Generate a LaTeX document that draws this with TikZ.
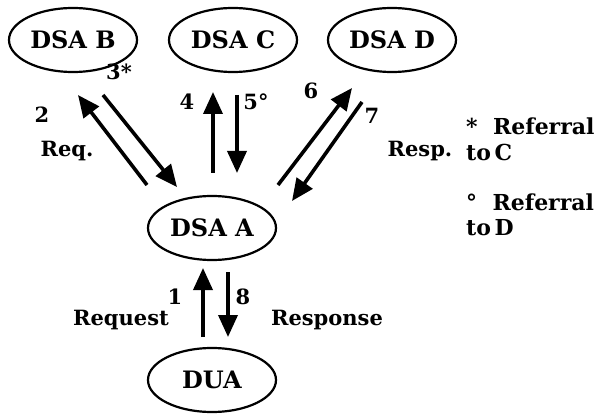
\documentclass[tikz,border=0pt]{standalone}
\usepackage{fontspec}
\setmainfont{DejaVu Serif}
\usetikzlibrary{arrows.meta,shapes.geometric}
\begin{document}
\begin{tikzpicture}[x=1pt,y=-1pt,
 ell/.style={draw, line width=2.2pt, ellipse, inner sep=0pt, minimum width=128pt, minimum height=64pt, font=\bfseries\fontsize{24}{26}\selectfont},
 arr/.style={line width=3.6pt, -{Triangle[length=22pt,width=19pt]}},
 lbl/.style={font=\bfseries\fontsize{21}{24}\selectfont, inner sep=0pt},
 leg/.style={font=\bfseries\fontsize{22}{24}\selectfont, inner sep=0pt, anchor=west}]
\useasboundingbox (0,0) rectangle (616,417);
\node[ell] (B) at (73,40) {DSA B};
\node[ell] (C) at (233,40) {DSA C};
\node[ell] (D) at (392,40) {DSA D};
\node[ell] (A) at (212,228) {DSA A};
\node[ell] (U) at (212,380) {DUA};
% arrow end points
\coordinate (a2s) at (147,185); \coordinate (a2e) at (78,95);
\coordinate (a3s) at (103,95);  \coordinate (a3e) at (177,187);
\coordinate (a4s) at (213,173); \coordinate (a4e) at (213,92);
\coordinate (a5s) at (237,95);  \coordinate (a5e) at (237,173);
\coordinate (a6s) at (278,185); \coordinate (a6e) at (352,88);
\coordinate (a7s) at (362,102); \coordinate (a7e) at (292,201);
\coordinate (a1s) at (203,337); \coordinate (a1e) at (203,268);
\coordinate (a8s) at (228,272); \coordinate (a8e) at (228,337);
\draw[arr] (a2s) -- (a2e);
\draw[arr] (a3s) -- (a3e);
\draw[arr] (a4s) -- (a4e);
\draw[arr] (a5s) -- (a5e);
\draw[arr] (a6s) -- (a6e);
\draw[arr] (a7s) -- (a7e);
\draw[arr] (a1s) -- (a1e);
\draw[arr] (a8s) -- (a8e);
% labels
\node[lbl] (l2) at (42,115) {2};
\node[lbl] (l3) at (119,72) {3*};
\node[lbl] (lreq) at (67,151) {Req.};
\node[lbl] (l4) at (187,102) {4};
\node[lbl] (l5) at (256,102) {5°};
\node[lbl] (l6) at (311,91) {6};
\node[lbl] (l7) at (372,116) {7};
\node[lbl] (lresp) at (420,151) {Resp.};
\node[lbl] (lrequest) at (121,320) {Request};
\node[lbl] (l1) at (175,297) {1};
\node[lbl] (l8) at (243,297) {8};
\node[lbl] (lresponse) at (327,320) {Response};
% legend
\node[leg] (g1) at (466,126) {*\ \ Referral};
\node[leg] (g2) at (466,152) {to\,C};
\node[leg] (g3) at (466,202) {°\ \ Referral};
\node[leg] (g4) at (466,228) {to\,D};
\end{tikzpicture}
\end{document}
